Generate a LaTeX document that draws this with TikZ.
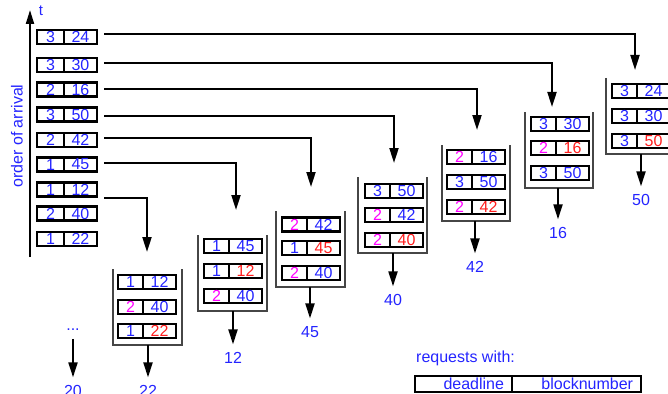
\documentclass[tikz,border=0pt]{standalone}
\usepackage{fontspec}
\setmainfont{Liberation Sans}
\usetikzlibrary{arrows.meta}

\definecolor{qblue}{RGB}{36,36,255}
\definecolor{qmag}{RGB}{255,0,255}
\definecolor{qred}{RGB}{255,30,30}
\definecolor{qwall}{RGB}{70,70,70}

\tikzset{
  cell/.style={draw=black, line width=2.5pt, inner sep=0pt, outer sep=0pt,
    minimum height=14pt, font=\fontsize{16}{18}\selectfont},
  conn/.style={line width=2pt},
  arr/.style={conn, -{Triangle[length=15pt,width=9pt]}},
  wall/.style={draw=qwall, line width=2.3pt},
  lbl/.style={text=qblue, font=\fontsize{16}{18}\selectfont, inner sep=0pt, outer sep=8pt},
}

% one request: [deadline cell width]{name}{x left}{y centre}{colour}{deadline}{colour}{block}
\newcommand\rec[8][25]{%
  \node[cell, minimum width=#1pt, text=#5, anchor=west] (#2-d) at (#3,#4) {#6};
  \node[cell, minimum width=33pt, text=#7, anchor=west] (#2-b) at (#2-d.east) {#8};
}
% open-top queue bin: {name}{left}{top}{width}{output x}
\newcommand\qbin[5]{%
  \draw[wall] (#2,#3) -- (#2,#3+76) -- (#2+#4,#3+76) -- (#2+#4,#3);
  \coordinate (#1-out) at (#5,#3+76);
}

\begin{document}
\begin{tikzpicture}[x=1pt,y=-1pt]
\useasboundingbox (0,0) rectangle (668,393);

% time axis
\coordinate (axb) at (30,257);
\coordinate (axt) at (30,10);
\draw[line width=2pt, -{Triangle[length=14pt,width=8pt]}] (axb) -- (axt);
\node[text=qblue, font=\fontsize{15}{17}\selectfont] (tlab) at (41,11) {t};
\node[text=qblue, font=\fontsize{16}{18}\selectfont, rotate=90] (ordlab) at (17,136) {order of arrival};

% incoming requests
\rec[27]{a1}{37}{37}{qblue}{3}{qblue}{24}
\rec[27]{a2}{37}{65}{qblue}{3}{qblue}{30}
\rec[27]{a3}{37}{89.5}{qblue}{2}{qblue}{16}
\rec[27]{a4}{37}{114.5}{qblue}{3}{qblue}{50}
\rec[27]{a5}{37}{140}{qblue}{2}{qblue}{42}
\rec[27]{a6}{37}{164.5}{qblue}{1}{qblue}{45}
\rec[27]{a7}{37}{189.5}{qblue}{1}{qblue}{12}
\rec[27]{a8}{37}{213.5}{qblue}{2}{qblue}{40}
\rec[27]{a9}{37}{239}{qblue}{1}{qblue}{22}

% queue states
\qbin{q1}{112.7}{269}{69}{148}
\rec{q1r1}{118}{282}{qblue}{1}{qblue}{12}
\rec{q1r2}{118}{307}{qmag}{2}{qblue}{40}
\rec{q1r3}{118}{331}{qblue}{1}{qred}{22}

\qbin{q2}{198}{235}{69}{233}
\rec{q2r1}{204}{246}{qblue}{1}{qblue}{45}
\rec{q2r2}{204}{271}{qblue}{1}{qred}{12}
\rec{q2r3}{204}{296}{qmag}{2}{qblue}{40}

\qbin{q3}{276}{211}{69}{310}
\rec{q3r1}{282}{224.5}{qmag}{2}{qblue}{42}
\rec{q3r2}{282}{248}{qblue}{1}{qred}{45}
\rec{q3r3}{282}{273}{qmag}{2}{qblue}{40}

\qbin{q4}{358}{177}{69}{393}
\rec{q4r1}{365}{191}{qblue}{3}{qblue}{50}
\rec{q4r2}{365}{215}{qmag}{2}{qblue}{42}
\rec{q4r3}{365}{240}{qmag}{2}{qred}{40}

\qbin{q5}{442}{145}{68}{475}
\rec{q5r1}{447}{157}{qmag}{2}{qblue}{16}
\rec{q5r2}{447}{182}{qblue}{3}{qblue}{50}
\rec{q5r3}{447}{207}{qmag}{2}{qred}{42}

\qbin{q6}{525}{112}{68}{558}
\rec{q6r1}{531}{124}{qblue}{3}{qblue}{30}
\rec{q6r2}{531}{148}{qmag}{2}{qred}{16}
\rec{q6r3}{531}{173}{qblue}{3}{qblue}{50}

\qbin{q7}{606}{78}{69}{641}
\rec{q7r1}{612}{91}{qblue}{3}{qblue}{24}
\rec{q7r2}{612}{116}{qblue}{3}{qblue}{30}
\rec{q7r3}{612}{141}{qblue}{3}{qred}{50}

% where each request drops into its queue
\coordinate (in1) at (147,252);
\coordinate (in2) at (236,210);
\coordinate (in3) at (311,187);
\coordinate (in4) at (394,163);
\coordinate (in5) at (477,130);
\coordinate (in6) at (552,107);
\coordinate (in7) at (635,70);

\draw[arr] ([xshift=7pt,yshift=3pt]a1-b.east) -| (in7);
\draw[arr] ([xshift=7pt,yshift=2pt]a2-b.east) -| (in6);
\draw[arr] ([xshift=7pt]a3-b.east) -| (in5);
\draw[arr] ([xshift=7pt,yshift=-1pt]a4-b.east) -| (in4);
\draw[arr] ([xshift=7pt,yshift=2pt]a5-b.east) -| (in3);
\draw[arr] ([xshift=7pt,yshift=2pt]a6-b.east) -| (in2);
\draw[arr] ([xshift=7pt,yshift=-8pt]a7-b.east) -| (in1);

% served blocks
\node[lbl] (l1) at (148,391) {22};
\node[lbl] (l2) at (233,358) {12};
\node[lbl] (l3) at (310,332) {45};
\node[lbl] (l4) at (393,300) {40};
\node[lbl] (l5) at (475,267) {42};
\node[lbl] (l6) at (558,233) {16};
\node[lbl] (l7) at (641,200) {50};
\foreach \i in {1,...,7} \draw[arr] (q\i-out) -- (l\i);

\node[lbl] (dots) at (73,330) {...};
\node[lbl] (l0) at (73,391) {20};
\draw[arr] (dots) -- (l0);

% legend
\node[text=qblue, font=\fontsize{16}{18}\selectfont, anchor=west, inner sep=0pt] (req) at (416,358) {requests with:};
\node[cell, minimum width=97pt, minimum height=16pt, text width=81pt, align=right,
  text=qblue, font=\fontsize{16}{18}\selectfont, anchor=west] (legd) at (415,384) {deadline};
\node[cell, minimum width=129pt, minimum height=16pt, text width=113pt, align=right,
  text=qblue, font=\fontsize{16}{18}\selectfont, anchor=west] (legb) at (legd.east) {blocknumber};
\end{tikzpicture}
\end{document}
